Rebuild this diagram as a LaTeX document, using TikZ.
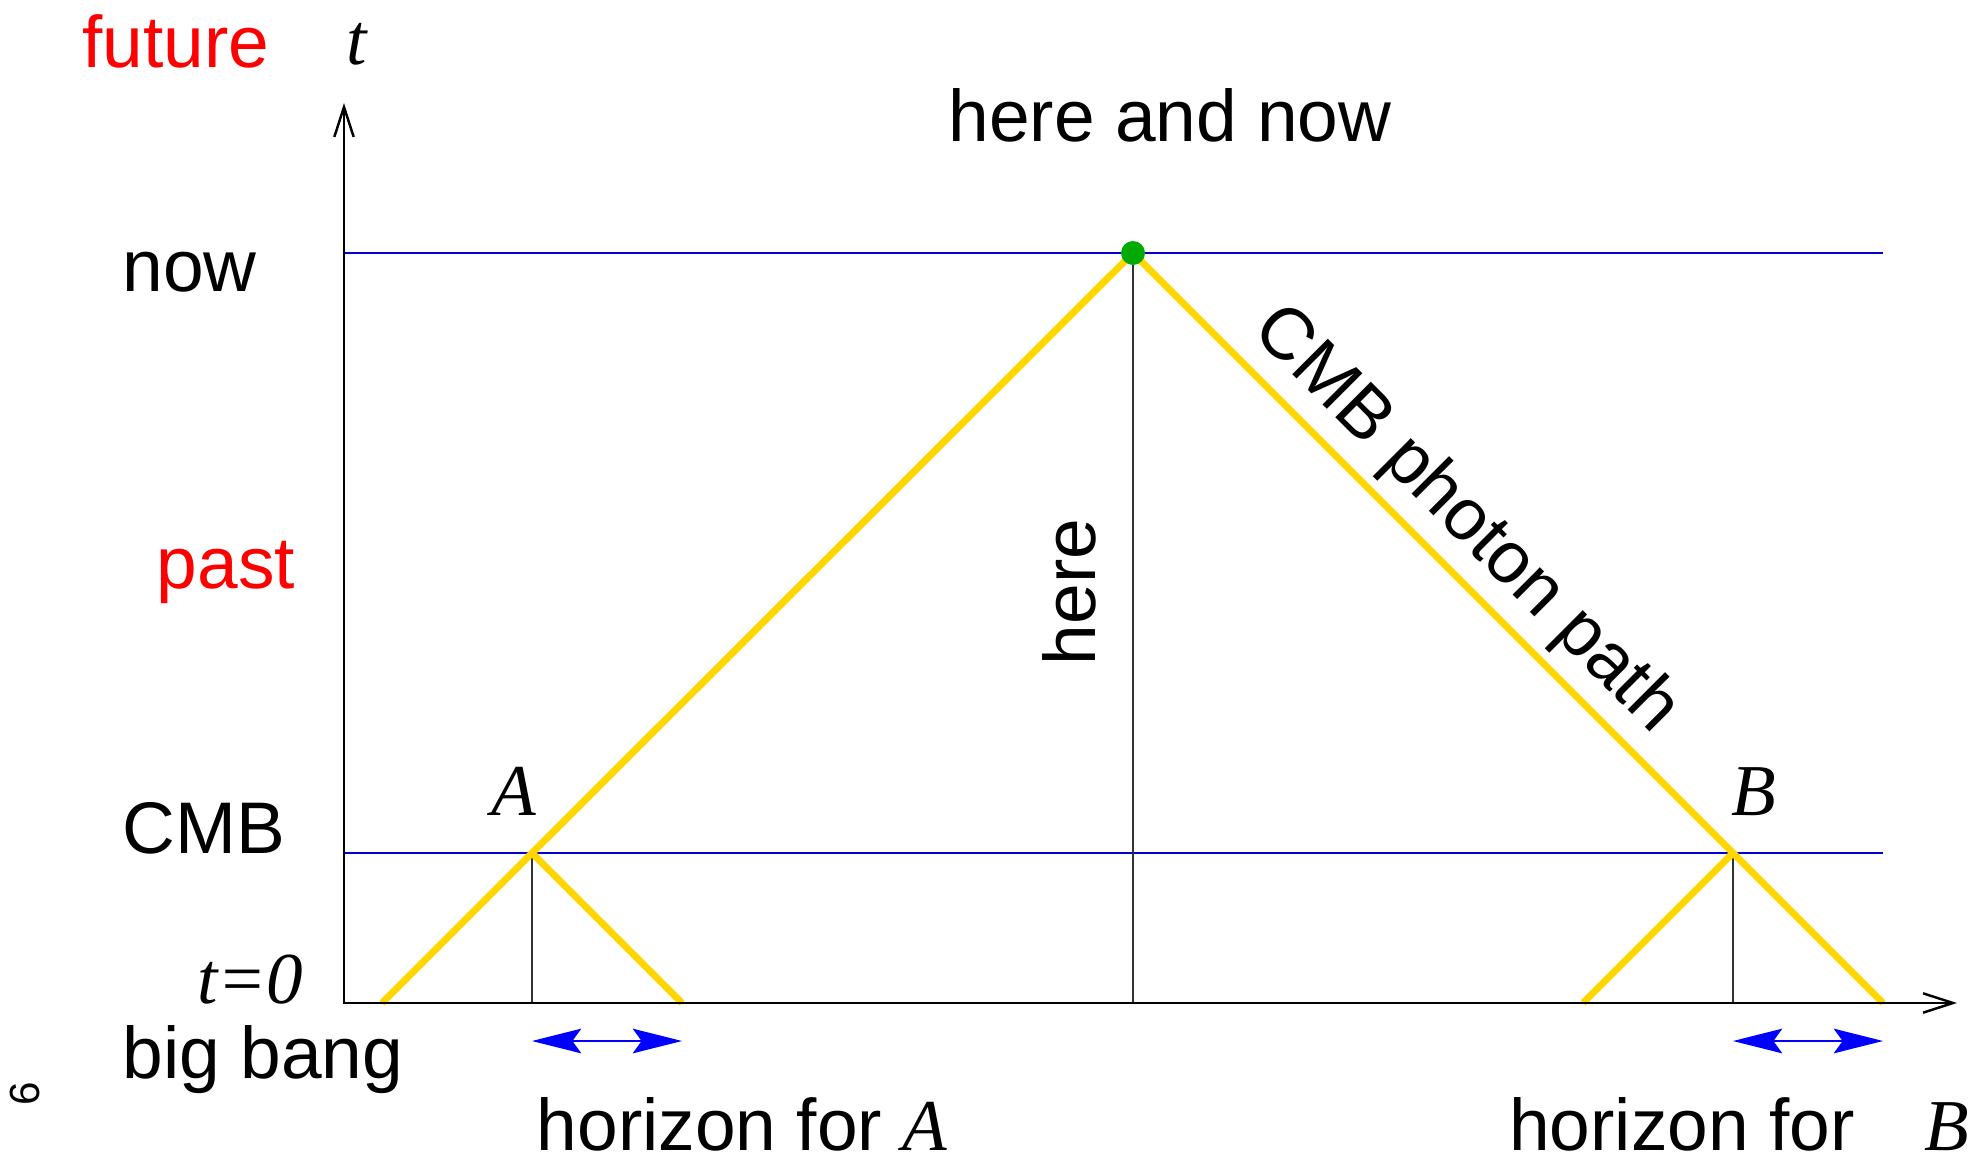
\documentclass[tikz,border=0pt]{standalone}
\usepackage{fontspec}
\setmainfont{Liberation Sans}
\newfontfamily\timesfont{Liberation Serif}
\usetikzlibrary{arrows.meta}
\definecolor{pgold}{RGB}{255,214,0}
\definecolor{dotgreen}{RGB}{0,170,0}
\definecolor{lineblue}{RGB}{0,0,210}
\tikzset{
  lbl/.style={font=\fontsize{20.8}{24}\selectfont, inner sep=0pt},
  ital/.style={font=\fontsize{20.8}{24}\selectfont\timesfont\itshape, inner sep=0pt},
  photon/.style={pgold, line width=2pt},
  epoch/.style={lineblue, line width=0.6pt},
  guide/.style={black!80, line width=0.3pt},
  taxis/.style={line width=0.7pt, {Straight Barb[length=8.5pt,width=5.5pt]}-{Straight Barb[length=8.5pt,width=5.5pt]}},
  horizon/.style={blue, line width=0.6pt, {Stealth[length=14pt,width=7pt,inset=2.5pt]}-{Stealth[length=14pt,width=7pt,inset=2.5pt]}},
}
\begin{document}
\begin{tikzpicture}
  \useasboundingbox (0,0) rectangle (19.73,11.62);
  % axes and events
  \coordinate (O) at (3.44,1.59);
  \coordinate (tTop) at (3.44,10.59);
  \coordinate (xEnd) at (19.57,1.59);
  \coordinate (A) at (5.32,3.09);
  \coordinate (B) at (17.33,3.09);
  \coordinate (H) at (11.33,9.09);
  \coordinate (A0) at (5.32,1.59);
  \coordinate (B0) at (17.33,1.59);
  \coordinate (H0) at (11.33,1.59);
  \coordinate (Al) at (3.82,1.59);
  \coordinate (Ar) at (6.82,1.59);
  \coordinate (Bl) at (15.83,1.59);
  \coordinate (Br) at (18.83,1.59);
  \coordinate (nowL) at (3.44,9.09);
  \coordinate (nowR) at (18.83,9.09);
  \coordinate (cmbL) at (3.44,3.09);
  \coordinate (cmbR) at (18.83,3.09);
  \coordinate (hA1) at (5.32,1.21);
  \coordinate (hA2) at (6.82,1.21);
  \coordinate (hB1) at (17.33,1.21);
  \coordinate (hB2) at (18.83,1.21);

  \draw[epoch] (nowL) -- (nowR);
  \draw[epoch] (cmbL) -- (cmbR);
  \draw[guide] (A) -- (A0);
  \draw[guide] (B) -- (B0);
  \draw[guide] (H) -- (H0);
  \draw[photon] (Al) -- (A) -- (H) -- (B) -- (Br);
  \draw[photon] (A) -- (Ar);
  \draw[photon] (Bl) -- (B);
  \draw[taxis] (tTop) -- (O) -- (xEnd);
  \fill[dotgreen] (H) circle (0.12);

  \draw[horizon] (hA1) -- (hA2);
  \draw[horizon] (hB1) -- (hB2);

  % labels
  \node[lbl, red, anchor=base] (future) at (1.76,10.95) {future};
  \node[ital, anchor=base] (tlabel) at (3.57,10.97) {t};
  \node[lbl, anchor=base] (herenow) at (11.70,10.21) {here and now};
  \node[lbl, anchor=base west] (nowlabel) at (1.22,8.71) {now};
  \node[lbl, red, anchor=base] (past) at (2.26,5.74) {past};
  \node[lbl, anchor=base west] (cmblabel) at (1.22,3.09) {CMB};
  \node[ital, anchor=base east] (tzero) at (3.04,1.59) {t=0};
  \node[lbl, anchor=base west] (bang) at (1.22,0.84) {big bang};
  \node[ital, anchor=base] (Alabel) at (5.14,3.47) {A};
  \node[ital, anchor=base] (Blabel) at (17.54,3.47) {B};
  \node[lbl, rotate=90, anchor=base] (here) at (10.95,5.70) {here};
  \node[lbl, rotate=-45, anchor=base] (path) at (14.52,6.28) {CMB photon path};
  \node[lbl, anchor=base] (horA) at (7.42,0.12) {horizon for {\timesfont\itshape A}};
  \node[lbl, anchor=base] (horB) at (17.39,0.12) {horizon for\hspace{0.95em}{\timesfont\itshape B}};
  \node[font=\fontsize{12}{14}\selectfont, rotate=90] (pageno) at (0.25,0.68) {6};
\end{tikzpicture}
\end{document}
